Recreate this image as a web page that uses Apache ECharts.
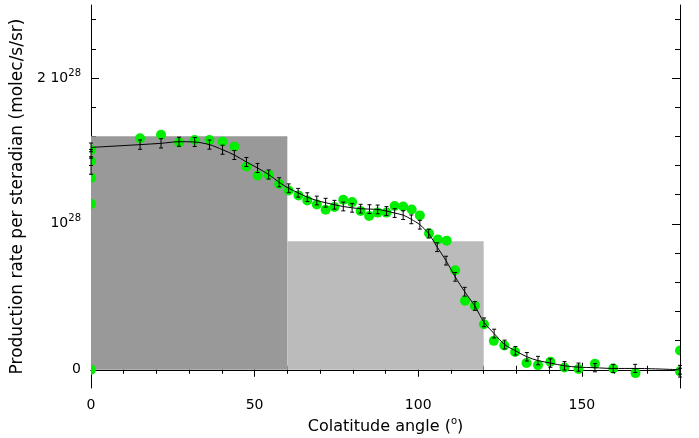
<!DOCTYPE html>
<html>
<head>
<meta charset="utf-8">
<script src="https://cdn.jsdelivr.net/npm/echarts@6.0.0/dist/echarts.min.js"></script>
<style>
  html, body { margin: 0; padding: 0; background: #fff; }
  #chart { width: 699px; height: 438px; }
</style>
</head>
<body>
<div id="chart"></div>
<script>
// Production rate per steradian (units of 1e28 molec/s/sr) versus colatitude angle (deg)

// Model curve with error bars
const modelAngle = [0, 15.0, 21.4, 26.9, 31.7, 36.2, 40.2, 43.8, 47.5, 50.9, 54.3, 57.5, 60.4,
  63.3, 66.1, 69.0, 71.7, 74.4, 77.1, 79.8, 82.4, 85.1, 87.6, 90.3, 92.8, 95.4, 97.9,
  100.5, 103.2, 105.8, 108.5, 111.3, 114.2, 117.3, 120.1, 123.2, 126.4, 129.7, 133.2,
  136.6, 140.4, 144.7, 149.0, 154.0, 159.6, 166.3, 180];
const modelRate = [1.524, 1.543, 1.552, 1.563, 1.561, 1.543, 1.508, 1.472, 1.424, 1.383, 1.338, 1.285, 1.244,
  1.213, 1.183, 1.160, 1.145, 1.131, 1.119, 1.110, 1.104, 1.101, 1.099, 1.088, 1.074, 1.060, 1.031,
  0.994, 0.933, 0.840, 0.748, 0.637, 0.535, 0.437, 0.325, 0.248, 0.173, 0.130, 0.089,
  0.063, 0.046, 0.027, 0.018, 0.014, 0.009, 0.009, 0.000];
const modelErr = [0.030, 0.032, 0.032, 0.031, 0.031, 0.031, 0.031, 0.031, 0.031, 0.031, 0.031, 0.031, 0.030,
  0.030, 0.030, 0.030, 0.030, 0.030, 0.030, 0.030, 0.030, 0.030, 0.030, 0.030, 0.030, 0.030, 0.030,
  0.030, 0.030, 0.030, 0.030, 0.030, 0.030, 0.030, 0.030, 0.030, 0.030, 0.029, 0.029,
  0.029, 0.029, 0.029, 0.028, 0.028, 0.028, 0.028, 0.030];

// Additional error bars at the poles
const poleAngle = [0, 0, 0, 180];
const poleRate = [1.370, 1.430, 1.480, -0.020];
const poleErr = [0.030, 0.030, 0.030, 0.030];

// Observed points
const obsAngle = [0, 0, 0, 0, 0, 15.0, 21.4, 26.9, 31.7, 36.2, 40.2, 43.8, 47.5, 50.9, 54.3, 57.5,
  60.4, 63.4, 66.1, 69.0, 71.7, 74.4, 77.1, 79.8, 82.4, 85.0, 87.6, 90.3, 92.8, 95.4, 98.0,
  100.5, 103.3, 106.0, 108.7, 111.3, 114.3, 117.3, 120.1, 123.1, 126.3, 129.6, 133.1, 136.6,
  140.4, 144.7, 149.0, 154.0, 159.6, 166.4, 180, 180];
const obsRate = [1.507, 1.429, 1.315, 1.137, 0.000, 1.586, 1.611, 1.558, 1.575, 1.575, 1.563, 1.529, 1.393, 1.331, 1.336, 1.274,
  1.229, 1.195, 1.160, 1.133, 1.097, 1.115, 1.165, 1.149, 1.088, 1.054, 1.077, 1.077, 1.122, 1.119, 1.099,
  1.058, 0.935, 0.893, 0.885, 0.682, 0.473, 0.439, 0.312, 0.198, 0.166, 0.122, 0.046, 0.032,
  0.055, 0.016, 0.005, 0.041, 0.009, -0.023, 0.132, -0.011];

// Shaded latitude bands: [start angle, end angle, level]
const bandStart = [0, 60];
const bandEnd = [60, 120];
const bandLevel = [1.60, 0.88];
const bandColor = ['#999999', '#bbbbbb'];

// Axis ticks
const xMajorTicks = [0, 50, 100, 150];
const xMinorTicks = [0, 10, 20, 30, 40, 50, 60, 70, 80, 90, 100, 110, 120, 130, 140, 150, 160, 170, 180];
const yMajorTicks = [0, 1, 2];
const yMinorTicks = [0, 0.2, 0.4, 0.6, 0.8, 1.0, 1.2, 1.4, 1.6, 1.8, 2.0, 2.2, 2.4];
const yTickLabels = ['0', '10{sup|28}', '2 10{sup|28}'];

const X_MIN = 0, X_MAX = 180, Y_MIN = -0.125, Y_MAX = 2.5;
const FONT = 'DejaVu Sans';
const INK = '#000';

const chart = echarts.init(document.getElementById('chart'), null, { renderer: 'canvas' });

function xAxisDef(pos, ticks, len, withLabels) {
  return {
    type: 'value', position: pos, min: X_MIN, max: X_MAX,
    axisLine: { show: withLabels, lineStyle: { color: INK, width: 1 } },
    axisTick: { show: true, inside: true, length: len, customValues: ticks, lineStyle: { color: INK } },
    axisLabel: withLabels ? {
      show: true, customValues: xMajorTicks, fontFamily: FONT, fontSize: 14, color: INK, margin: 10
    } : { show: false },
    splitLine: { show: false }
  };
}
function yAxisDef(pos, ticks, len, withLabels) {
  return {
    type: 'value', position: pos, min: Y_MIN, max: Y_MAX,
    axisLine: { show: withLabels, onZero: false, lineStyle: { color: INK, width: 1 } },
    axisTick: { show: true, inside: true, length: len, customValues: ticks, lineStyle: { color: INK } },
    axisLabel: withLabels ? {
      show: true, customValues: yMajorTicks, fontFamily: FONT, fontSize: 14, color: INK, margin: 10,
      formatter: (v) => yTickLabels[yMajorTicks.indexOf(Math.round(v))],
      rich: { sup: { fontFamily: FONT, fontSize: 10, color: INK, padding: [0, 0, 10, 0] } }
    } : { show: false },
    splitLine: { show: false }
  };
}

const xAxes = [
  Object.assign(xAxisDef('bottom', xMinorTicks, 4, true), {
    name: 'Colatitude angle ({sup|o})', nameLocation: 'middle', nameGap: 28,
    nameTextStyle: { fontFamily: FONT, fontSize: 16, color: INK,
      rich: { sup: { fontFamily: FONT, fontSize: 10, color: INK, padding: [0, 0, 9, 0] } } }
  }),
  xAxisDef('bottom', xMajorTicks, 7, false),
  Object.assign(xAxisDef('top', xMinorTicks, 4, false), { axisLine: { show: true, lineStyle: { color: INK } } }),
  xAxisDef('top', xMajorTicks, 7, false)
];
const yAxes = [
  Object.assign(yAxisDef('left', yMinorTicks, 5, true), {
    name: 'Production rate per steradian (molec/s/sr)', nameLocation: 'middle', nameGap: 62,
    nameTextStyle: { fontFamily: FONT, fontSize: 17, color: INK }
  }),
  yAxisDef('left', yMajorTicks, 8, false),
  Object.assign(yAxisDef('right', yMinorTicks, 5, false), { axisLine: { show: true, onZero: false, lineStyle: { color: INK } } }),
  yAxisDef('right', yMajorTicks, 8, false)
];

function errorBarItem(params, api) {
  const x = api.value(0), y = api.value(1), e = api.value(2);
  const hi = api.coord([x, y + e]);
  const lo = api.coord([x, y - e]);
  const cap = 2;
  const st = { stroke: '#000', lineWidth: 1 };
  return {
    type: 'group',
    children: [
      { type: 'line', shape: { x1: hi[0], y1: hi[1], x2: lo[0], y2: lo[1] }, style: st },
      { type: 'line', shape: { x1: hi[0] - cap, y1: hi[1], x2: hi[0] + cap, y2: hi[1] }, style: st },
      { type: 'line', shape: { x1: lo[0] - cap, y1: lo[1], x2: lo[0] + cap, y2: lo[1] }, style: st }
    ]
  };
}

function dotItem(params, api) {
  const p = api.coord([api.value(0), api.value(1)]);
  return { type: 'circle', shape: { cx: p[0], cy: p[1], r: 5 }, style: { fill: '#00ee00' } };
}

const errData = modelAngle.map((a, i) => [a, modelRate[i], modelErr[i]])
  .concat(poleAngle.map((a, i) => [a, poleRate[i], poleErr[i]]));

chart.setOption({
  animation: false,
  backgroundColor: '#fff',
  grid: { left: 91, right: 19, top: 5, bottom: 50, containLabel: false, outerBoundsMode: 'none' },
  xAxis: xAxes,
  yAxis: yAxes,
  series: [
    {
      type: 'custom', name: 'bands', xAxisIndex: 0, yAxisIndex: 0, silent: true, z: 1,
      data: bandStart.map((s, i) => [s, bandEnd[i], bandLevel[i], i]),
      renderItem: (params, api) => {
        const p0 = api.coord([api.value(0), api.value(2)]);
        const p1 = api.coord([api.value(1), 0]);
        return {
          type: 'rect',
          shape: { x: p0[0], y: p0[1], width: p1[0] - p0[0], height: p1[1] - p0[1] },
          style: { fill: bandColor[api.value(3)] }
        };
      }
    },
    {
      type: 'custom', name: 'observed', xAxisIndex: 0, yAxisIndex: 0, z: 2, clip: true, silent: true,
      renderItem: dotItem,
      data: obsAngle.map((a, i) => [a, obsRate[i]])
    },
    {
      type: 'line', name: 'model', xAxisIndex: 0, yAxisIndex: 0, z: 3,
      showSymbol: false, smooth: 0.3,
      lineStyle: { color: '#000', width: 1 },
      data: modelAngle.map((a, i) => [a, modelRate[i]])
    },
    {
      type: 'custom', name: 'errors', xAxisIndex: 0, yAxisIndex: 0, z: 4, silent: true,
      renderItem: errorBarItem,
      data: errData
    }
  ]
});
</script>
</body>
</html>
